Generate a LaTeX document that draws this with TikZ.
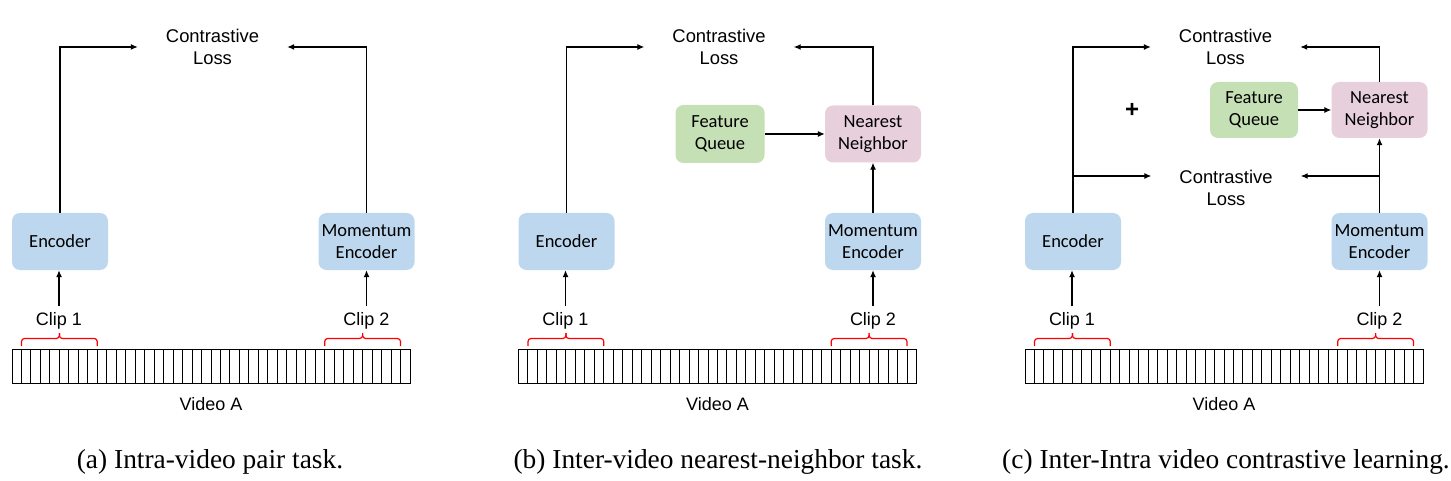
\documentclass[tikz,border=0pt]{standalone}
\usepackage{fontspec}
\setmainfont{Liberation Serif}
\newfontfamily\arialf{Liberation Sans}
\newfontfamily\calf{Carlito}
\usetikzlibrary{arrows.meta}
\definecolor{encblue}{RGB}{189,215,238}
\definecolor{fqgreen}{RGB}{197,224,180}
\definecolor{nnpink}{RGB}{232,207,220}
\tikzset{
 boxnode/.style={rounded corners=8pt, minimum width=96pt, minimum height=57pt, inner sep=0pt, align=center, font=\calf\fontsize{18.5}{22}\selectfont},
 losstxt/.style={minimum width=149pt, inner sep=0pt, align=center, font=\arialf\fontsize{18.4}{22}\selectfont},
 lbl/.style={inner sep=0pt, font=\arialf\fontsize{18}{22}\selectfont},
 arr/.style={-{Latex[length=7pt,width=6pt]}, line width=1.2pt},
 brk/.style={red, line width=1.2pt, rounded corners=3pt},
 film/.style={line width=1pt},
 captxt/.style={inner sep=0pt, font=\fontsize{27.4}{30}\selectfont}
}
\newcommand\panelbase[1]{%
 \draw[film] (12,349.5) rectangle (410,383);
 \foreach \i in {1,...,41} {\draw[film] ({12+\i*398/42},349.5) -- ({12+\i*398/42},383);}
 \draw[brk] (21.5,346) -- (21.5,338.5) -- (59.4,338.5) -- (59.4,333);
 \draw[brk] (97.3,346) -- (97.3,338.5) -- (59.4,338.5) -- (59.4,333);
 \draw[brk] (324.7,346) -- (324.7,338.5) -- (362.6,338.5) -- (362.6,333);
 \draw[brk] (400.5,346) -- (400.5,338.5) -- (362.6,338.5) -- (362.6,333);
 \node[lbl] (#1clipa) at (59,321) {Clip 1};
 \node[lbl] (#1clipb) at (366.5,321) {Clip 2};
 \node[lbl] (#1video) at (211,404) {Video A};
 \node[boxnode, fill=encblue] (#1enc) at (60,241.5) {Encoder};
 \node[boxnode, fill=encblue] (#1menc) at (366.5,241.5) {Momentum\\Encoder};
 \draw[arr, shorten <=6pt] (#1clipa.north) -- (#1clipa.north |- #1enc.south);
 \draw[arr, shorten <=6pt] (#1clipb.north) -- (#1clipb.north |- #1menc.south);
}
\begin{document}
\begin{tikzpicture}[x=1pt,y=-1pt]
\useasboundingbox (0,0) rectangle (1451,481);
% panel (a)
\begin{scope}
 \panelbase{a}
 \node[losstxt] (aloss) at (212.5,47) {Contrastive\\Loss};
 \draw[arr] (aenc.north) |- (aloss.west);
 \draw[arr] (amenc.north) |- (aloss.east);
\end{scope}
% panel (b)
\begin{scope}[xshift=506.5pt]
 \panelbase{b}
 \node[losstxt] (bloss) at (212.5,47) {Contrastive\\Loss};
 \node[boxnode, fill=fqgreen, minimum width=89pt, minimum height=58pt] (bfq) at (213.5,134) {Feature\\Queue};
 \node[boxnode, fill=nnpink] (bnn) at (366.5,134) {Nearest\\Neighbor};
 \draw[arr] (benc.north) |- (bloss.west);
 \draw[arr] (bmenc.north) -- (bnn.south);
 \draw[arr] (bfq.east) -- (bnn.west);
 \draw[arr] (bnn.north) |- (bloss.east);
\end{scope}
% panel (c)
\begin{scope}[xshift=1013pt]
 \panelbase{c}
 \node[losstxt] (closs) at (212.5,47) {Contrastive\\Loss};
 \node[losstxt] (clossb) at (213,188) {Contrastive\\Loss};
 \node[inner sep=0pt, font=\arialf\bfseries\fontsize{24}{24}\selectfont] (cplus) at (119,110) {+};
 \node[boxnode, fill=fqgreen, minimum width=88pt, minimum height=56pt] (cfq) at (241,110) {Feature\\Queue};
 \node[boxnode, fill=nnpink, minimum height=56pt] (cnn) at (366.5,110) {Nearest\\Neighbor};
 \draw[arr] (cenc.north) |- (closs.west);
 \draw[arr] (cenc.north) |- ([yshift=12pt]clossb.west);
 \draw[arr] (cmenc.north) -- (cnn.south);
 \draw[arr] (cmenc.north) |- ([yshift=12pt]clossb.east);
 \draw[arr] (cfq.east) -- (cnn.west);
 \draw[arr] (cnn.north) |- (closs.east);
\end{scope}
% captions
\node[captxt] (capa) at (210,462) {(a) Intra-video pair task.};
\node[captxt] (capb) at (718,462) {(b) Inter-video nearest-neighbor task.};
\node[captxt] (capc) at (1226,462) {(c) Inter-Intra video contrastive learning.};
\end{tikzpicture}
\end{document}
